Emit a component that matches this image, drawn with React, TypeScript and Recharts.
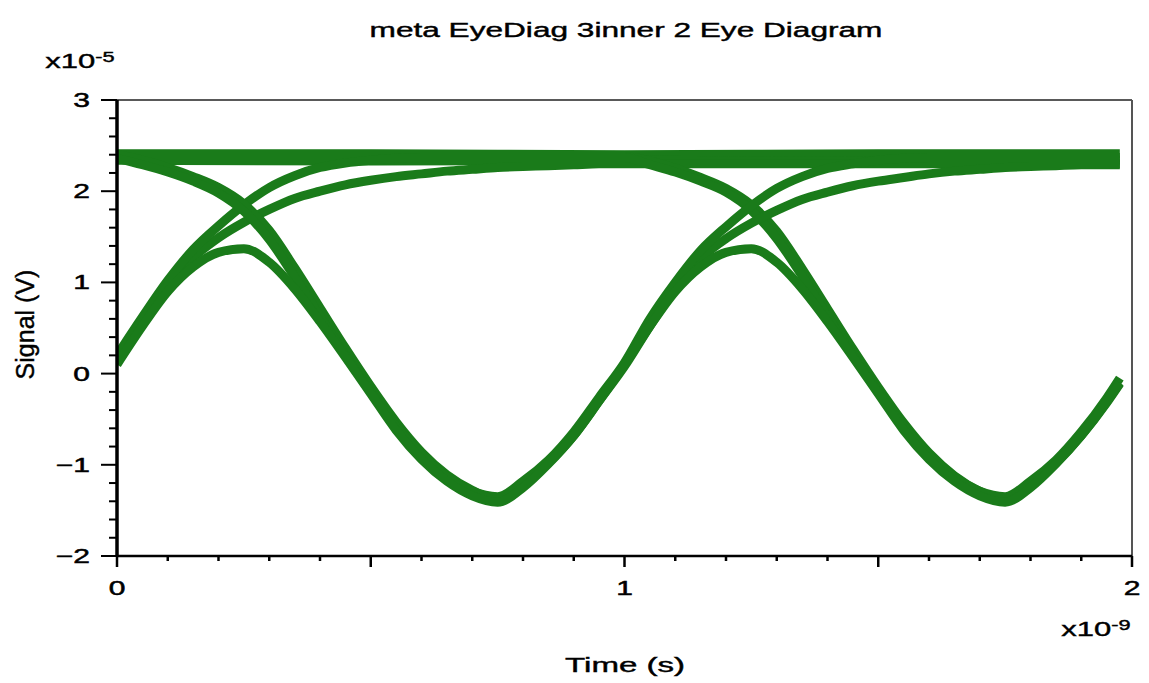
import { LineChart, Line, XAxis, YAxis, ReferenceLine } from "recharts"

const green = "#1a7b1a"
const font = "'Liberation Sans', Arial, sans-serif"

const xTicks = [0, 0.1, 0.2, 0.3, 0.4, 0.5, 0.6, 0.7, 0.8, 0.9, 1, 1.1, 1.2, 1.3, 1.4, 1.5, 1.6, 1.7, 1.8, 1.9, 2]
const yTicks = [-2, -1.8, -1.6, -1.4, -1.2, -1, -0.8, -0.6, -0.4, -0.2, 0, 0.2, 0.4, 0.6, 0.8, 1, 1.2, 1.4, 1.6, 1.8, 2, 2.2, 2.4, 2.6, 2.8, 3]

// sample times (ns): first unit interval, then second one
const tA = [0, 0.05, 0.1, 0.15, 0.2, 0.25, 0.3, 0.35, 0.4, 0.45, 0.5, 0.55, 0.6, 0.65, 0.7, 0.75, 0.8, 0.85, 0.9, 0.95, 1.0]
const tB = [1.05, 1.1, 1.15, 1.2, 1.25, 1.3, 1.35, 1.4, 1.45, 1.5, 1.55, 1.6, 1.65, 1.7, 1.75, 1.8, 1.85, 1.9, 1.95, 1.976]
const tFlat = [0, 0.5, 1.0, 1.5, 1.976]

// signal values (x1e-5 V), first interval
const fallA = [2.36, 2.29, 2.21, 2.11, 1.98, 1.78, 1.47, 1.06, 0.63, 0.2, -0.2, -0.58, -0.89, -1.13, -1.29, -1.35, -1.18, -0.95, -0.64, -0.26, 0.12]
const fallA2 = [2.4, 2.34, 2.26, 2.16, 2.04, 1.86, 1.57, 1.16, 0.72, 0.28, -0.14, -0.53, -0.86, -1.11, -1.28, -1.38, -1.22, -0.98, -0.68, -0.3, 0.08]
const archA = [0.1, 0.52, 0.9, 1.17, 1.33, 1.37, 1.22, 0.93, 0.57, 0.18, -0.22, -0.62, -0.94, -1.18, -1.34, -1.41, -1.25, -0.99, -0.68, -0.3, 0.1]
const riseHiA = [0.2, 0.62, 1.02, 1.36, 1.62, 1.85, 2.04, 2.17, 2.26, 2.31, 2.34, 2.36, 2.37, 2.37, 2.37, 2.37, 2.37, 2.37, 2.37, 2.37, 2.37]
const riseLoA = [0.12, 0.55, 0.95, 1.27, 1.49, 1.66, 1.8, 1.92, 2.0, 2.07, 2.12, 2.16, 2.19, 2.22, 2.24, 2.26, 2.27, 2.28, 2.29, 2.3, 2.3]
const highA = [2.38, 2.38, 2.38, 2.38, 2.38, 2.38, 2.38, 2.38, 2.38, 2.38, 2.38, 2.38, 2.38, 2.38, 2.38, 2.38, 2.38, 2.38, 2.38, 2.38, 2.38]

// second interval
const riseHiB = [0.6, 1.0, 1.35, 1.61, 1.84, 2.03, 2.16, 2.25, 2.3, 2.34, 2.36, 2.37, 2.37, 2.37, 2.37, 2.37, 2.37, 2.37, 2.37, 2.37]
const archB = [0.52, 0.9, 1.17, 1.33, 1.37, 1.22, 0.93, 0.57, 0.18, -0.22, -0.62, -0.94, -1.18, -1.34, -1.41, -1.25, -0.99, -0.68, -0.31, -0.1]
const fallB = [2.29, 2.21, 2.11, 1.99, 1.79, 1.48, 1.07, 0.63, 0.2, -0.2, -0.58, -0.89, -1.13, -1.29, -1.35, -1.18, -0.95, -0.64, -0.27, -0.05]
const fallB2 = [2.33, 2.25, 2.15, 2.03, 1.85, 1.56, 1.15, 0.71, 0.27, -0.15, -0.54, -0.87, -1.12, -1.29, -1.38, -1.22, -0.98, -0.68, -0.32, -0.11]
const riseLoB = [0.52, 0.93, 1.26, 1.48, 1.65, 1.79, 1.91, 1.99, 2.06, 2.11, 2.15, 2.19, 2.22, 2.24, 2.26, 2.27, 2.28, 2.29, 2.29, 2.29]
const highB = [2.3, 2.3, 2.3, 2.3, 2.3, 2.3, 2.3, 2.3, 2.3, 2.3, 2.3, 2.3, 2.3, 2.3, 2.3, 2.3, 2.3, 2.3, 2.3, 2.3]

// flat "1-1" band
const topA = [2.41, 2.41, 2.4, 2.41, 2.41]
const topB = [2.34, 2.33, 2.34, 2.33, 2.34]

const tAll = [...tA, ...tB]
const zip = (ts: number[], vs: number[]) => ts.map((t, i) => ({ t, v: vs[i] }))

const traces = [
  zip(tFlat, topA),
  zip(tFlat, topB),
  zip(tAll, [...riseLoA, ...highB]),
  zip(tAll, [...highA, ...fallB2]),
  zip(tAll, [...riseHiA, ...fallB]),
  zip(tAll, [...fallA2, ...riseLoB]),
  zip(tAll, [...fallA, ...riseHiB]),
  zip(tAll, [...archA, ...archB]),
]

const isInt = (v: number) => Math.abs(v - Math.round(v)) < 1e-6

function XTick({ x, y, payload }: any) {
  const v = payload.value
  const half = Math.abs(v * 2 - Math.round(v * 2)) < 1e-6
  return (
    <g>
      <line x1={x} x2={x} y1={y} y2={y + (half ? 11 : 5)} stroke="#000" strokeWidth={2.5} />
      {isInt(v) && (
        <text
          transform={`translate(${x},${y + 39}) scale(1.5,1)`}
          textAnchor="middle"
          fontSize={20}
          fontFamily={font}
          fill="#000"
          stroke="#000"
          strokeWidth={0.5}
        >
          {v}
        </text>
      )}
    </g>
  )
}

function YTick({ x, y, payload }: any) {
  const v = payload.value
  const major = isInt(v)
  return (
    <g>
      <line x1={x - (major ? 16 : 8)} x2={x} y1={y} y2={y} stroke="#000" strokeWidth={2} />
      {major && (
        <text
          transform={`translate(${x - 27},${y + 7}) scale(1.5,1)`}
          textAnchor="end"
          fontSize={20}
          fontFamily={font}
          fill="#000"
          stroke="#000"
          strokeWidth={0.5}
        >
          {v < 0 ? "\u2212" + Math.abs(v) : v}
        </text>
      )}
    </g>
  )
}

const txt = {
  position: "absolute" as const,
  fontFamily: font,
  fontSize: 20,
  lineHeight: "20px",
  color: "#000",
  whiteSpace: "nowrap" as const,
  WebkitTextStroke: "0.4px #000",
}

export default function App() {
  return (
    <div style={{ position: "absolute", left: 0, top: 0, width: 1149, height: 683, background: "#fff" }}>
      <LineChart
        width={1149}
        height={683}
        margin={{ top: 100, right: 17, bottom: 97, left: 57 }}
      >
        <XAxis
          dataKey="t"
          type="number"
          domain={[0, 2]}
          ticks={xTicks}
          interval={0}
          allowDataOverflow
          height={30}
          tickSize={0}
          tickMargin={0}
          tickLine={false}
          axisLine={{ stroke: "#000", strokeWidth: 2.5 }}
          tick={<XTick />}
        />
        <YAxis
          dataKey="v"
          type="number"
          domain={[-2, 3]}
          ticks={yTicks}
          interval={0}
          allowDataOverflow
          width={60}
          tickSize={0}
          tickMargin={0}
          tickLine={false}
          axisLine={{ stroke: "#000", strokeWidth: 3.5 }}
          tick={<YTick />}
        />
        <ReferenceLine y={3} stroke="#222" strokeWidth={1.5} />
        <ReferenceLine x={2} stroke="#555" strokeWidth={2} />
        {traces.map((d, i) => (
          <Line
            key={i}
            data={d}
            dataKey="v"
            type="monotone"
            stroke={green}
            strokeWidth={9}
            dot={false}
            activeDot={false}
            isAnimationActive={false}
          />
        ))}
      </LineChart>
      <div style={{ ...txt, left: 626, top: 20, transform: "translateX(-50%) scaleX(1.58)" }}>
        meta EyeDiag 3inner 2 Eye Diagram
      </div>
      <div style={{ ...txt, left: 80, top: 47, transform: "translateX(-50%) scaleX(1.55)" }}>
        x10<sup style={{ fontSize: 14, verticalAlign: "6px" }}>-5</sup>
      </div>
      <div style={{ ...txt, left: 1096, top: 615, transform: "translateX(-50%) scaleX(1.55)" }}>
        x10<sup style={{ fontSize: 14, verticalAlign: "6px" }}>-9</sup>
      </div>
      <div style={{ ...txt, left: 625, top: 655, transform: "translateX(-50%) scaleX(1.65)" }}>
        Time (s)
      </div>
      <div
        style={{
          ...txt,
          fontSize: 25,
          lineHeight: "25px",
          left: 25,
          top: 312,
          transform: "translate(-50%, 0) scaleX(1.0) rotate(-90deg)",
        }}
      >
        Signal (V)
      </div>
    </div>
  )
}
